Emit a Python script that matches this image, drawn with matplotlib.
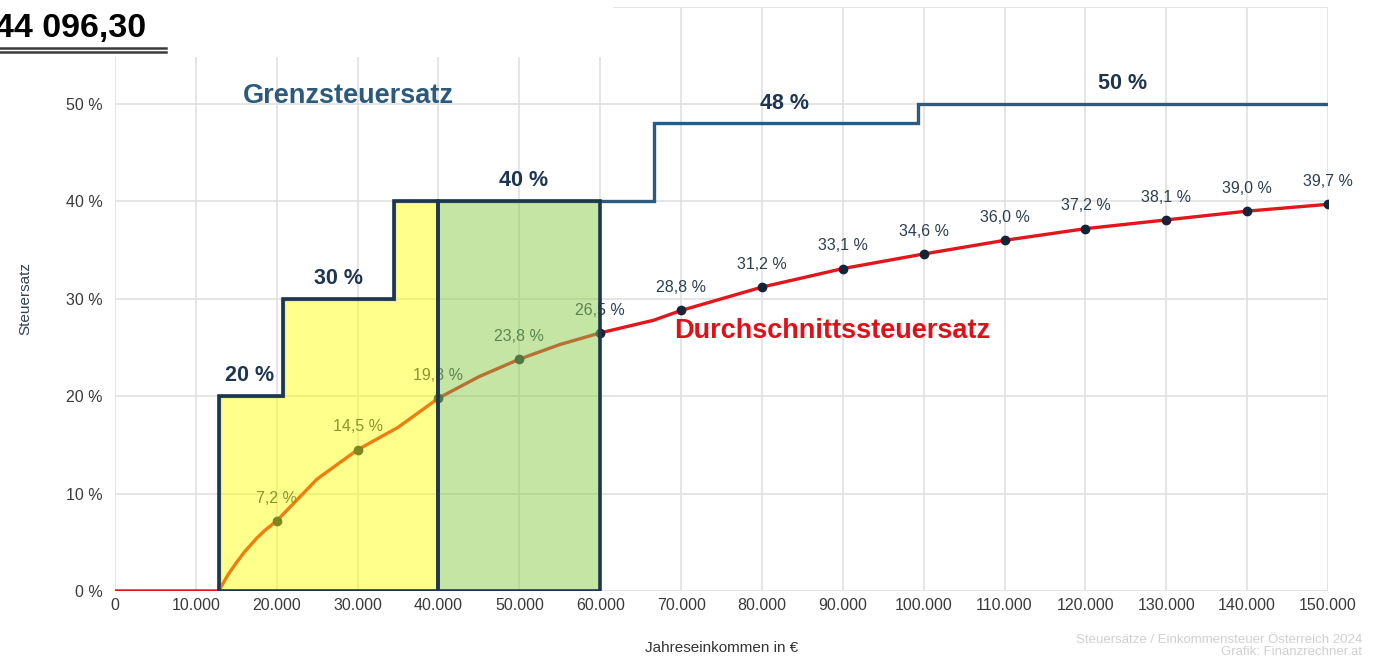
import matplotlib
matplotlib.use("Agg")
import matplotlib.pyplot as plt
from matplotlib.patches import Polygon, Rectangle
from matplotlib.lines import Line2D

plt.rcParams['font.family'] = ['Liberation Sans', 'DejaVu Sans']

# ---- data ----
# marginal tax brackets (Grenzsteuersatz), Austria 2024
bracket_edges = [0, 12816, 20818, 34513, 66612, 99266, 150000]
bracket_rates = [0, 20, 30, 40, 48, 50]
bracket_labels = ["20 %", "30 %", "40 %", "48 %", "50 %"]
bracket_label_x = [16700, 27600, 50500, 82800, 124600]
bracket_label_y = [22.1, 32.1, 42.1, 50.1, 52.1]

# average tax rate (Durchschnittssteuersatz) labelled points
avg_x = [20000, 30000, 40000, 50000, 60000, 70000, 80000, 90000, 100000,
         110000, 120000, 130000, 140000, 150000]
avg_y = [7.2, 14.5, 19.8, 23.8, 26.5, 28.8, 31.2, 33.1, 34.6, 36.0, 37.2,
         38.1, 39.0, 39.7]
avg_labels = ["7,2 %", "14,5 %", "19,8 %", "23,8 %", "26,5 %", "28,8 %",
              "31,2 %", "33,1 %", "34,6 %", "36,0 %", "37,2 %", "38,1 %",
              "39,0 %", "39,7 %"]
# extra points
curve_extra_x = [0, 12816, 14000, 15000, 16000, 17500, 18500, 25000, 35000,
                 45000, 55000, 66612]
curve_extra_y = [0, 0, 1.7, 2.9, 4.0, 5.4, 6.2, 11.5, 16.8, 22.0, 25.3, 27.8]

xticks = list(range(0, 150001, 10000))
xtick_labels = ["0"] + [f"{v // 1000}.000" for v in xticks[1:]]
yticks = list(range(0, 61, 10))
ytick_labels = [f"{v} %" for v in yticks]

highlight_yellow = [12816, 40000]
highlight_green = [40000, 60000]

# ---- figure ----
fig = plt.figure(figsize=(13.79, 6.56), dpi=100)
ax = fig.add_axes([115 / 1379, 65 / 656, (1328 - 115) / 1379, (591 - 6.6) / 656])
ax.set_xlim(0, 150000)
ax.set_ylim(0, 60)
for s in ax.spines.values():
    s.set_visible(False)
ax.set_xticks(xticks)
ax.set_xticklabels(xtick_labels)
ax.set_yticks(yticks)
ax.set_yticklabels(ytick_labels)
ax.tick_params(length=0, labelsize=11.5, colors="#3a3a3a")
ax.tick_params(axis="y", pad=9)
ax.tick_params(axis="x", pad=5)
ax.grid(True, color="#e0e0e0", lw=1.2, zorder=0.5)
ax.set_axisbelow(True)

ax.set_ylabel("Steuersatz", fontsize=11, color="#2f4256", labelpad=24)
ax.set_xlabel("Jahreseinkommen in €", fontsize=11, color="#333333", labelpad=20)

# step line (marginal rate)
sx, sy = [], []
for i, r in enumerate(bracket_rates):
    sx += [bracket_edges[i], bracket_edges[i + 1]]
    sy += [r, r]
ax.plot(sx, sy, color="#2d5a7d", lw=2.4, zorder=1.9, solid_joinstyle="miter")

# average curve
pts = sorted(zip(curve_extra_x + avg_x, curve_extra_y + avg_y))
cx = [p[0] for p in pts]
cy = [p[1] for p in pts]
ax.plot(cx, cy, color="#e3161c", lw=2.4, zorder=2, solid_capstyle="round")
ax.plot(avg_x, avg_y, "o", color="#14253a", ms=6, zorder=3)
for x, y, t in zip(avg_x, avg_y, avg_labels):
    ax.annotate(t, (x, y), xytext=(0, 11), textcoords="offset points",
                ha="center", va="bottom", fontsize=11.5, color="#2c3e50", zorder=3)


def rate_at(x):
    for i in range(len(bracket_rates)):
        if bracket_edges[i] <= x < bracket_edges[i + 1]:
            return bracket_rates[i]
    return bracket_rates[-1]


# yellow region under the step line
yx0, yx1 = highlight_yellow
poly_y = [(yx0, 0)]
edges_in = [e for e in bracket_edges if yx0 <= e < yx1]
for e in edges_in:
    poly_y.append((e, poly_y[-1][1]))
    poly_y.append((e, rate_at(e)))
poly_y.append((yx1, rate_at(yx1 - 1)))
poly_y.append((yx1, 0))
ax.add_patch(Polygon(poly_y, closed=True,
                     facecolor=(1, 1, 0), alpha=0.45, edgecolor="none", zorder=4))
ax.add_patch(Polygon(poly_y, closed=True, facecolor="none", edgecolor="#1e3552",
                     lw=2.6, zorder=5, joinstyle="miter"))

gx0, gx1 = highlight_green
gh = rate_at(gx0)
poly_g = [(gx0, 0), (gx0, gh), (gx1, gh), (gx1, 0)]
ax.add_patch(Polygon(poly_g, closed=True, facecolor=(0.55, 0.8, 0.3), alpha=0.5,
                     edgecolor="none", zorder=4))
ax.add_patch(Polygon(poly_g, closed=True, facecolor="none", edgecolor="#1e3552",
                     lw=2.6, zorder=5, joinstyle="miter"))

for t, x, y in zip(bracket_labels, bracket_label_x, bracket_label_y):
    ax.text(x, y, t, ha="center", va="center", fontsize=15.5, fontweight="bold",
            color="#1e3552", zorder=6)

ax.text(28900, 50.8, "Grenzsteuersatz", ha="center", va="center", fontsize=19.5,
        fontweight="bold", color="#2b5a7c", zorder=6)
ax.text(88700, 26.7, "Durchschnittssteuersatz", ha="center", va="center",
        fontsize=19.5, fontweight="bold", color="#e0101a", zorder=6)

# white box at top-left with value and double underline
fig.add_artist(Rectangle((0, (656 - 57) / 656), 613 / 1379, 57 / 656,
                         transform=fig.transFigure, facecolor="white",
                         edgecolor="none", zorder=10))
fig.text(146 / 1379, (656 - 37) / 656, "44 096,30", ha="right", va="baseline",
         fontsize=24.5, fontweight="bold", color="black", zorder=11)
for yy in (48, 52):
    fig.add_artist(Line2D([0, 166 / 1379], [(656 - yy) / 656] * 2,
                          transform=fig.transFigure, color="#3a3a3a", lw=1.8,
                          zorder=11))

fig.text(1362 / 1379, (656 - 640) / 656, "Steuersätze / Einkommensteuer Österreich 2024",
         ha="right", va="center", fontsize=9.5, color="#d0d0d0")
fig.text(1362 / 1379, (656 - 652) / 656, "Grafik: Finanzrechner.at",
         ha="right", va="center", fontsize=9.5, color="#d0d0d0")

fig.savefig("out.png", dpi=100)
